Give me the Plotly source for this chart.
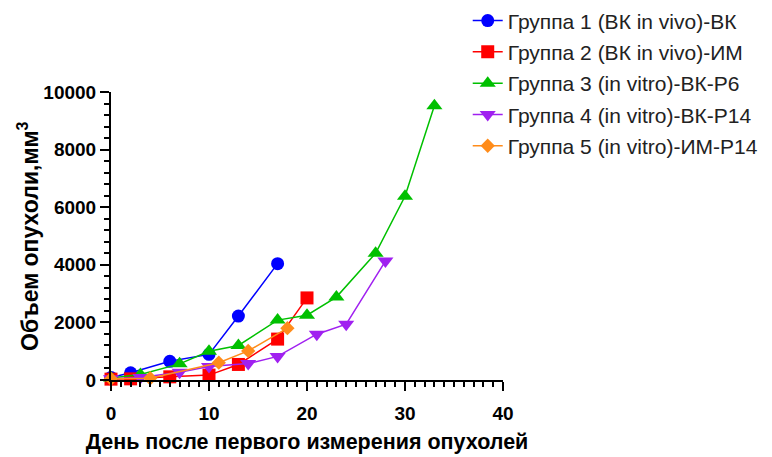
import plotly.graph_objects as go

names = [
    "Группа 1 (ВК in vivo)-ВК",
    "Группа 2 (ВК in vivo)-ИМ",
    "Группа 3 (in vitro)-ВК-Р6",
    "Группа 4 (in vitro)-ВК-Р14",
    "Группа 5 (in vitro)-ИМ-Р14",
]
g1_days = [0, 2, 6, 10, 13, 17]
g1_vals = [90, 250, 650, 890, 2220, 4040]
g2_days = [0, 2, 6, 10, 13, 17, 20]
g2_vals = [30, 40, 110, 170, 540, 1420, 2850]
g3_days = [0, 3, 7, 10, 13, 17, 20, 23, 27, 30, 33]
g3_vals = [70, 190, 560, 1000, 1200, 2080, 2250, 2880, 4400, 6380, 9520]
g4_days = [0, 3, 7, 10, 14, 17, 21, 24, 28]
g4_vals = [40, 90, 270, 470, 570, 820, 1590, 1940, 4130]
g5_days = [0, 4, 11, 14, 18]
g5_vals = [40, 60, 600, 1010, 1800]

x_ticks = [0, 10, 20, 30, 40]
y_ticks = [0, 2000, 4000, 6000, 8000, 10000]
y_ticklabels = ["0", "2000", "4000", "6000", "8000", "10000"]

colors = ["#0000FF", "#FF0000", "#00C000", "#A020F0", "#FF8C1A"]
symbols = ["circle", "square", "triangle-up", "triangle-down", "diamond"]
sizes = [13, 13, 14, 14, 11]

series = [(g1_days, g1_vals), (g2_days, g2_vals), (g3_days, g3_vals),
          (g4_days, g4_vals), (g5_days, g5_vals)]

fig = go.Figure()
for i, (d, v) in enumerate(series):
    fig.add_trace(go.Scatter(
        x=d, y=v, mode="lines+markers", name=names[i],
        legendgroup=str(i),
        line=dict(color=colors[i], width=1.5),
        marker=dict(color=colors[i], symbol=symbols[i], size=sizes[i],
                    line=dict(width=0)),
        cliponaxis=False,
    ))

font = "Liberation Sans, Arial, sans-serif"
fig.update_layout(
    width=764, height=449,
    margin=dict(l=103, r=269, t=84, b=77, autoexpand=False),
    paper_bgcolor="white", plot_bgcolor="white",
    font=dict(family=font, color="black"),
    legend=dict(x=0.91, y=1.318, xanchor="left", yanchor="top",
                font=dict(size=21, family=font, color="#222"),
                itemwidth=30, tracegroupgap=1, bgcolor="rgba(0,0,0,0)"),
    xaxis=dict(
        range=[0, 40], tickvals=x_ticks,
        showgrid=False, zeroline=False, automargin=False,
        showline=True, linecolor="black", linewidth=2,
        ticks="outside", ticklen=9, tickwidth=2, tickcolor="black",
        ticklabelstandoff=6,
        tickfont=dict(size=19, family=font, color="black", weight="bold"),
        minor=dict(dtick=1, ticks="outside", ticklen=5, tickwidth=1.5,
                   tickcolor="black", showgrid=False),
        title=dict(text="<b>День после первого измерения опухолей</b>",
                   font=dict(size=21.5, family=font, color="black"), standoff=11),
    ),
    yaxis=dict(
        range=[0, 10000], tickvals=y_ticks, ticktext=y_ticklabels,
        showgrid=False, zeroline=False, automargin=False,
        showline=True, linecolor="black", linewidth=2,
        ticks="outside", ticklen=9, tickwidth=2, tickcolor="black",
        tickfont=dict(size=19, family=font, color="black", weight="bold"),
        minor=dict(dtick=400, ticks="outside", ticklen=5, tickwidth=1.5,
                   tickcolor="black", showgrid=False),
    ),
    annotations=[dict(
        text="<b>Объем опухоли,мм<sup>3</sup></b>",
        xref="paper", yref="paper", x=-0.212, y=0.5,
        xanchor="center", yanchor="middle", textangle=-90, showarrow=False,
        font=dict(size=23, family=font, color="black"),
    )],
)

fig.write_html("out.html")
